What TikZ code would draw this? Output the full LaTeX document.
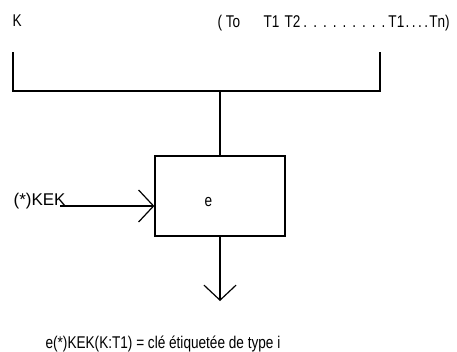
\documentclass[tikz,border=0pt]{standalone}
\usepackage{fontspec}
\usepackage{graphicx}
\setmainfont{Liberation Sans}
\usetikzlibrary{arrows.meta}
% narrow letters, as in the scan
\newcommand{\nrw}[1]{\scalebox{0.8}[1]{#1}}
% n dots spread over a given width
\newcommand{\spdots}[2]{\hbox to #2{\xleaders\hbox to \dimexpr #2/#1-0.01pt\relax{\hss\nrw{.}\hss}\hfill}}
\tikzset{
  txt/.style={inner sep=0pt, anchor=base west, font=\fontsize{17}{19}\selectfont},
  barb/.style={-{Straight Barb[length=15pt,width=32pt]}}
}
\begin{document}
\begin{tikzpicture}[x=1pt, y=-1pt, line width=1.2pt]
\useasboundingbox (0,0) rectangle (457,351);
\node[txt] (key) at (12,26) {\nrw{K}};
\node[txt] (tags) at (217,27)
  {\makebox[46pt][l]{\nrw{( To}}\makebox[21pt][l]{\nrw{T1}}\nrw{T2}\spdots{9}{88pt}\nrw{T1}\spdots{4}{25pt}\nrw{Tn)}};
\coordinate (bl) at (13,52);
\coordinate (br) at (380,52);
\coordinate (bm) at (220,91);
\draw (bl) |- (bm) -| (br);
\node[draw, minimum width=130pt, minimum height=80pt, inner sep=0pt] (e) at (220,196) {};
\node[txt] (elab) at (204,206) {\nrw{e}};
\draw (bm) -- (e.north);
\node[txt] (kek) at (13,205) {(*)KEK};
\coordinate (kin) at (60,206);
\draw[barb] (kin) -- (e.west |- kin);
\coordinate (out) at (220,301);
\draw[barb] (e.south) -- (out);
\node[txt] (res) at (45,348) {\nrw{e(*)KEK(K:T1) = clé étiquetée de type i}};
\end{tikzpicture}
\end{document}
